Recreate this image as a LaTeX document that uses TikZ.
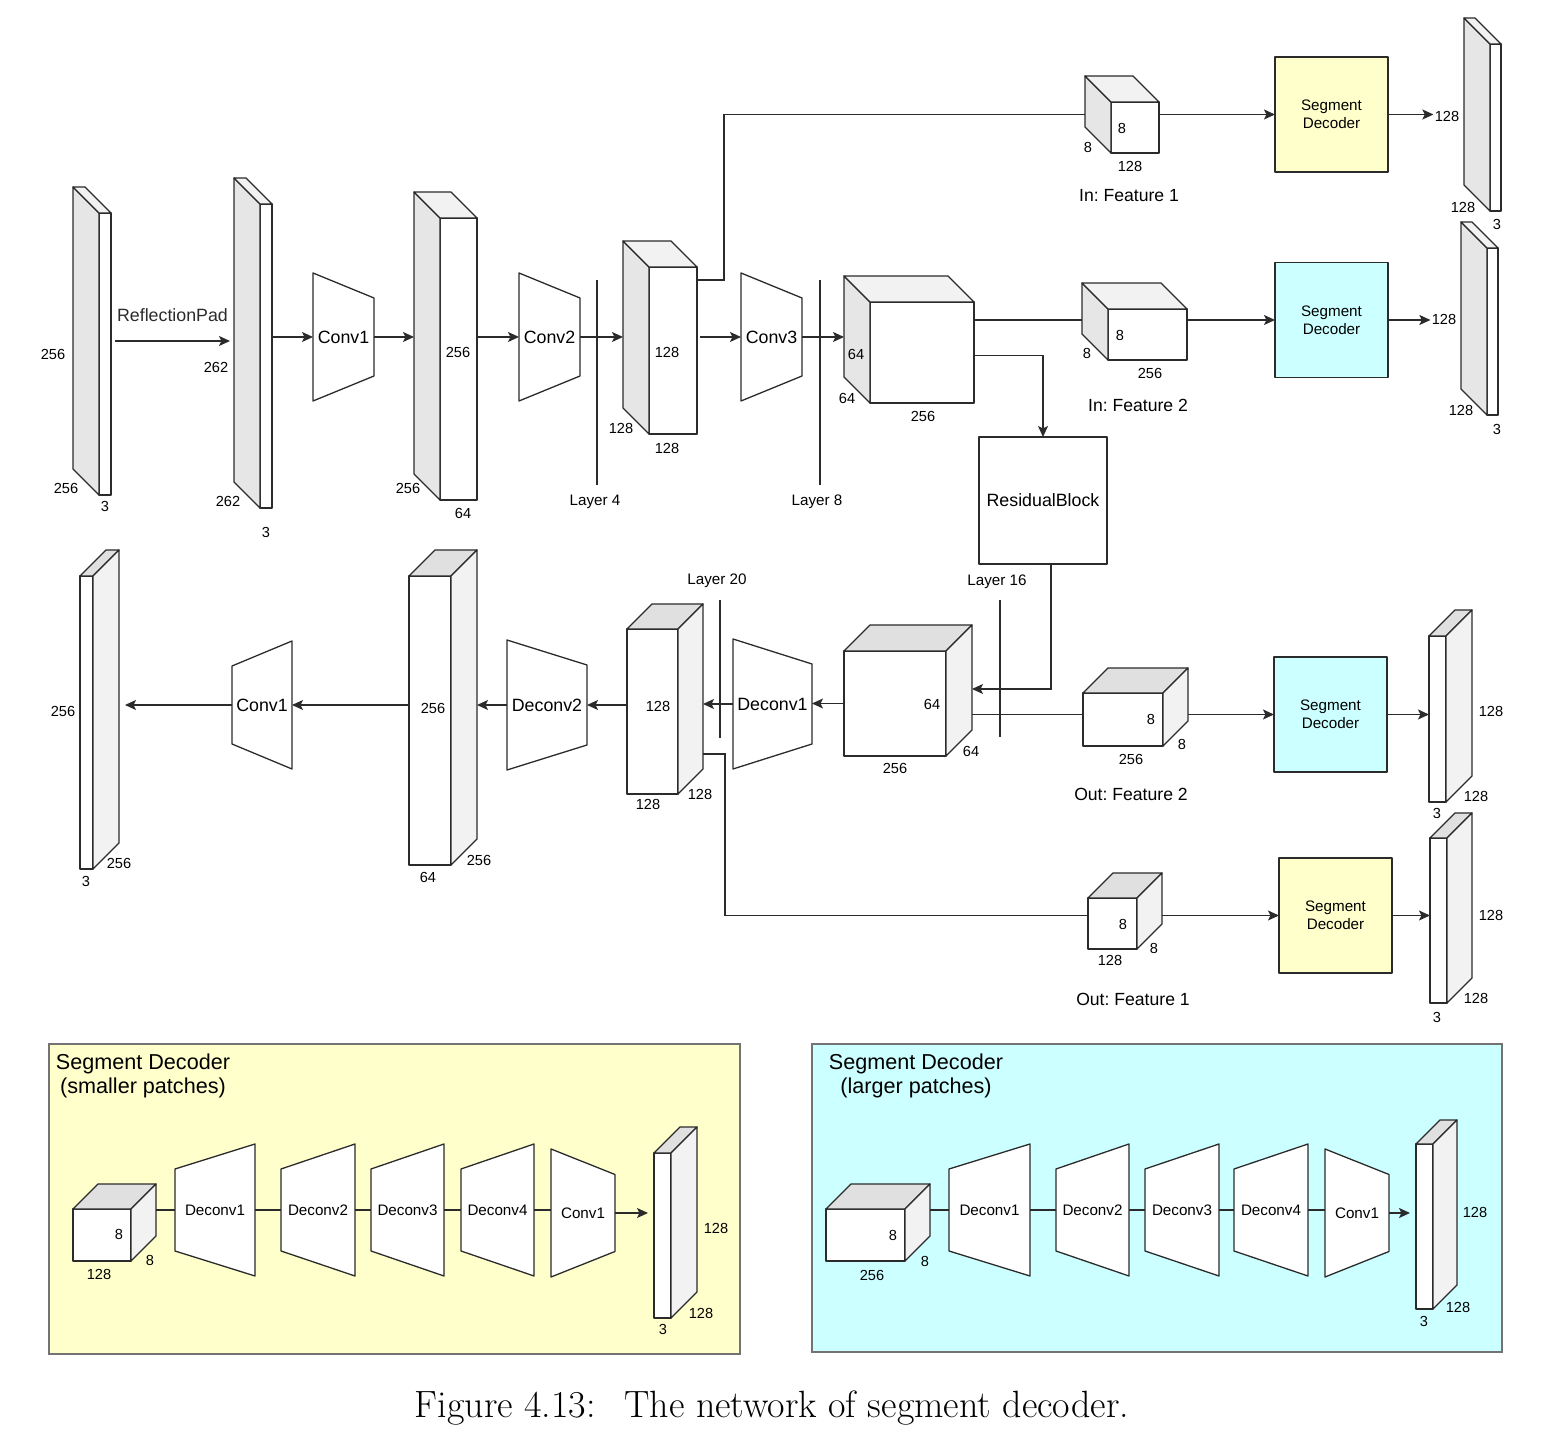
\documentclass[tikz,border=0pt]{standalone}
\usepackage{fontspec}
\newfontfamily\hv{Liberation Sans}
\usetikzlibrary{arrows.meta,positioning}
\frenchspacing
\definecolor{sdyellow}{HTML}{FFFFCC}
\definecolor{sdcyan}{HTML}{CCFFFF}
\definecolor{sidegray}{HTML}{E6E6E6}
\definecolor{topgray}{HTML}{F2F2F2}
\definecolor{topdark}{HTML}{E0E0E0}
\definecolor{edgecol}{HTML}{2B2B2B}
\tikzset{
  outl/.style={draw=edgecol, line width=0.65pt, line join=round},
  facebox/.style={outl, fill=white, inner sep=0pt, outer sep=0pt},
  trapnode/.style={inner sep=0pt, outer sep=0pt, minimum height=10pt, font=\hv\fontsize{8.9}{10}\selectfont},
  pfont/.style={font=\hv\fontsize{7.6}{9}\selectfont},
  lbl/.style={font=\hv\fontsize{8.9}{10}\selectfont, inner sep=1pt},
  dimlbl/.style={font=\hv\fontsize{7.3}{8}\selectfont, inner sep=0.5pt},
  smalllbl/.style={font=\hv\fontsize{7.6}{9.2}\selectfont, align=center, inner sep=1pt},
  featlbl/.style={font=\hv\fontsize{8.8}{10}\selectfont, inner sep=1pt},
  sdbox/.style={outl, smalllbl, inner sep=0pt, outer sep=0pt, minimum width=56.5pt, minimum height=57.5pt},
  arr/.style={-{Stealth[length=5.5pt,width=5pt,inset=1.2pt]}, line width=0.65pt, edgecol},
  conn/.style={line width=0.65pt, edgecol},
  panel/.style={draw=black!55, line width=0.8pt, inner sep=0pt}
}
% front face at (x left, y top), width, height, depth towards the upper left
\newcommand{\cubeL}[6]{%
  \node[facebox, minimum width=#4*0.5pt, minimum height=#5*0.5pt, anchor=north west] (#1) at (#2,#3) {};
  \filldraw[outl, fill=sidegray] (#1.north west) -- ++(-#6,-#6) -- ++(0,#5) -- (#1.south west) -- cycle;
  \filldraw[outl, fill=topgray] (#1.north west) -- ++(-#6,-#6) -- ++(#4,0) -- (#1.north east) -- cycle;
  \coordinate (#1-bw) at ([shift={(-#6,-#6)}]#1.west);
}
% same, depth towards the upper right
\newcommand{\cubeR}[6]{%
  \node[facebox, minimum width=#4*0.5pt, minimum height=#5*0.5pt, anchor=north west] (#1) at (#2,#3) {};
  \filldraw[outl, fill=topdark] (#1.north west) -- ++(#6,-#6) -- ++(#4,0) -- (#1.north east) -- cycle;
  \filldraw[outl, fill=topgray] (#1.north east) -- ++(#6,-#6) -- ++(0,#5) -- (#1.south east) -- cycle;
  \coordinate (#1-be) at ([shift={(#6,-#6)}]#1.east);
}
% trapezoid: name, cx, cy, width, left height, right height, text
\newcommand{\trap}[8][]{%
  \filldraw[outl, fill=white] ({#3-#5/2},{#4-#6/2}) -- ({#3+#5/2},{#4-#7/2}) -- ({#3+#5/2},{#4+#7/2}) -- ({#3-#5/2},{#4+#6/2}) -- cycle;
  \node[trapnode, minimum width=#5*0.5pt, #1] (#2) at (#3,#4) {#8};
}

\begin{document}
\begin{tikzpicture}[x=0.5pt, y=-0.5pt]
  \useasboundingbox (0,0) rectangle (1544,1438);

  \node[panel, fill=sdyellow, minimum width=345.5pt, minimum height=155pt] (pA) at (394.5,1199) {};
  \node[panel, fill=sdcyan, minimum width=345pt, minimum height=154pt] (pB) at (1157,1198) {};
  \node[font=\hv\fontsize{10.8}{12}\selectfont, align=center, anchor=north, inner sep=0pt] (tA) at (143,1053) {Segment Decoder\\(smaller patches)};
  \node[font=\hv\fontsize{10.8}{12}\selectfont, align=center, anchor=north, inner sep=0pt] (tB) at (916,1053) {Segment Decoder\\(larger patches)};

  \cubeL{in0}{99}{213}{12}{282}{26}
  \cubeL{pad}{260}{204}{12}{304}{26}
  \trap{c1}{343.5}{337}{61}{128}{78}{Conv1}
  \cubeL{f1}{440}{218}{37}{282}{26}
  \trap{c2}{549.5}{337}{61}{128}{78}{Conv2}
  \cubeL{f2}{649}{267}{48}{167}{26}
  \trap{c3}{771.5}{337}{61}{128}{78}{Conv3}
  \cubeL{f3}{870}{302}{104}{101}{26}
  \cubeL{in1}{1111}{102}{48}{51}{26}
  \cubeL{in2}{1108}{309}{79}{51}{26}
  \cubeL{o1}{1490}{44}{11}{167}{26}
  \cubeL{o2}{1487}{248}{11}{167}{26}
  \node[sdbox, fill=sdyellow] (sd1) at (1331.5,114.5) {Segment\\Decoder};
  \node[sdbox, fill=sdcyan] (sd2) at (1331.5,320) {Segment\\Decoder};
  \node[outl, lbl, inner sep=0pt, outer sep=0pt, minimum width=64pt, minimum height=63.5pt] (res) at (1043,500.5) {ResidualBlock};

  \cubeR{f4}{844}{651}{102}{105}{26}
  \trap{dc1}{772.5}{704}{79}{130}{80}{Deconv1}
  \cubeR{f5}{627}{629}{51}{165}{25}
  \trap{dc2}{547}{705}{80}{130}{80}{Deconv2}
  \cubeR{f6}{409}{576}{42}{289}{26}
  \trap{cv}{262}{705}{60}{78}{128}{Conv1}
  \cubeR{out}{80}{576}{13}{293}{26}
  \cubeR{of2}{1083}{693}{80}{53}{25}
  \cubeR{of1}{1088}{898}{49}{51}{25}
  \cubeR{o3}{1429}{636}{17}{166}{26}
  \cubeR{o4}{1430}{838}{17}{165}{25}
  \node[sdbox, fill=sdcyan] (sd3) at (1330.5,714.5) {Segment\\Decoder};
  \node[sdbox, fill=sdyellow] (sd4) at (1335.5,915.5) {Segment\\Decoder};

  \cubeR{pc1}{73}{1209}{58}{52}{25}
  \cubeR{ps1}{654}{1153}{17}{165}{26}
  \cubeR{pc2}{826}{1209}{79}{52}{25}
  \cubeR{ps2}{1416}{1144}{17}{165}{24}
  \foreach \n/\x/\w/\t in {dA1/215/80/Deconv1, dA2/318/74/Deconv2, dA3/407.5/73/Deconv3, dA4/497.5/73/Deconv4,
                           dB1/989.5/81/Deconv1, dB2/1092.5/73/Deconv2, dB3/1182/74/Deconv3, dB4/1271/74/Deconv4}
    \trap[pfont]{\n}{\x}{1210}{\w}{82}{132}{\t};
  \trap[pfont]{cA}{583}{1213}{64}{128}{77}{Conv1}
  \trap[pfont]{cB}{1357}{1213}{64}{128}{77}{Conv1}

  \draw[conn] (597,280) -- (597,485);
  \draw[conn] (820,280) -- (820,485);
  \draw[conn] (720,600) -- (720,738);
  \draw[conn] (1000,600) -- (1000,737);
  \node[smalllbl] (ly4) at (595,502) {Layer 4};
  \node[smalllbl] (ly8) at (817,502) {Layer 8};
  \node[smalllbl] (ly20) at (717,581) {Layer 20};
  \node[smalllbl] (ly16) at (997,582) {Layer 16};
  \node[featlbl] (if1) at (1129,196) {In: Feature 1};
  \node[featlbl] (if2) at (1138,405) {In: Feature 2};
  \node[featlbl] (of2l) at (1131,794) {Out: Feature 2};
  \node[featlbl] (of1l) at (1133,999) {Out: Feature 1};

  \node[dimlbl] (h1) at (1447,116) {128};
  \node[dimlbl] (h2) at (1444,319) {128};
  \foreach \x/\y/\t [count=\i] in {53/354/256, 66/488/256, 105/506/3, 216/367/262, 228/501/262, 266/532/3,
      458/352/256, 408/488/256, 463/513/64, 667/352/128, 621/428/128, 667/448/128,
      856/354/64, 847/398/64, 923/416/256, 1122/128/8, 1088/147/8, 1130/166/128,
      1120/335/8, 1087/353/8, 1150/373/256, 1463/207/128, 1497/224/3, 1461/410/128, 1497/429/3,
      932/704/64, 971/751/64, 895/768/256, 658/706/128, 700/794/128, 648/804/128,
      433/708/256, 479/860/256, 428/877/64, 63/711/256, 119/863/256, 86/881/3,
      1151/719/8, 1182/744/8, 1131/759/256, 1123/924/8, 1154/948/8, 1110/960/128,
      1491/711/128, 1476/796/128, 1437/813/3, 1491/915/128, 1476/998/128, 1437/1017/3,
      119/1234/8, 150/1260/8, 99/1274/128, 716/1228/128, 701/1313/128, 663/1329/3,
      893/1235/8, 925/1261/8, 872/1275/256, 1475/1212/128, 1458/1307/128, 1424/1321/3}
    \node[dimlbl] (n\i) at (\x,\y) {\t};

  \draw[arr] ([shift={(4,4)}]in0.east |- c1.west) -- node[lbl, above=8.5pt] (rp) {ReflectionPad} ([shift={(-4,4)}]pad-bw |- c1.west);
  \draw[arr] (pad.east |- c1.west) -- (c1.west);
  \draw[arr] (c1.east) -- (f1-bw |- c1.east);
  \draw[arr] (f1.east |- c2.west) -- (c2.west);
  \draw[arr] (c2.east) -- (f2-bw |- c2.east);
  \draw[arr] ([xshift=1.5pt]f2.east |- c3.west) -- (c3.west);
  \draw[arr] (c3.east) -- (f3-bw |- c3.east);
  \draw[conn] ([shift={(0,13)}]f2.north east) -| ([shift={(27,0)}]f2.north east |- sd1.west) -- (in1-bw |- sd1.west);
  \draw[arr] (in1.east |- sd1.west) -- (sd1.west);
  \draw[arr] (sd1.east) -- (h1.west |- sd1.east);
  \draw[conn] (f3.east |- sd2.west) -- (in2-bw |- sd2.west);
  \draw[arr] (in2.east |- sd2.west) -- (sd2.west);
  \draw[arr] (sd2.east) -- (h2.west |- sd2.east);
  \draw[arr] ([shift={(0,3)}]f3.east) -| (res.north);
  \draw[arr] ([shift={(8,0)}]res.south) |- ([shift={(0,11.5)}]f4-be);
  \draw[arr] (f4.west) -- (dc1.east |- f4.west);
  \draw[arr] (dc1.west) -- (f5-be |- dc1.west);
  \draw[arr] (f5.west |- dc2.east) -- (dc2.east);
  \draw[arr] (dc2.west) -- (f6-be |- dc2.west);
  \draw[arr] (f6.west |- cv.east) -- (cv.east);
  \draw[arr, shorten >=3pt] (cv.west) -- (out-be |- cv.west);
  \draw[conn] (f4-be |- sd3.west) -- (of2.west |- sd3.west);
  \draw[arr] (of2-be |- sd3.west) -- (sd3.west);
  \draw[arr] (sd3.east) -- (o3.west |- sd3.east);
  \draw[conn] ([shift={(0,67.5)}]f5-be) -| ([shift={(22,0)}]f5-be |- sd4.west) -- (of1.west |- sd4.west);
  \draw[arr] (of1-be |- sd4.west) -- (sd4.west);
  \draw[arr] (sd4.east) -- (o4.west |- sd4.east);

  \draw[conn] (pc1-be |- dA1.west) -- (dA1.west);
  \draw[conn] (pc2-be |- dB1.west) -- (dB1.west);
  \foreach \a/\b in {dA1/dA2, dA2/dA3, dA3/dA4, dA4/cA, dB1/dB2, dB2/dB3, dB3/dB4, dB4/cB}
    \draw[conn] (\a.east) -- (\b.west |- \a.east);
  \draw[arr, shorten >=3pt] (cA.east) -- (ps1.west |- cA.east);
  \draw[arr, shorten >=3pt] (cB.east) -- (ps2.west |- cB.east);

  \node[font=\rmfamily\fontsize{19}{22}\selectfont] (cap) at (772,1408) {Figure 4.13:\hspace{0.75em}The network of segment decoder.};
\end{tikzpicture}
\end{document}
